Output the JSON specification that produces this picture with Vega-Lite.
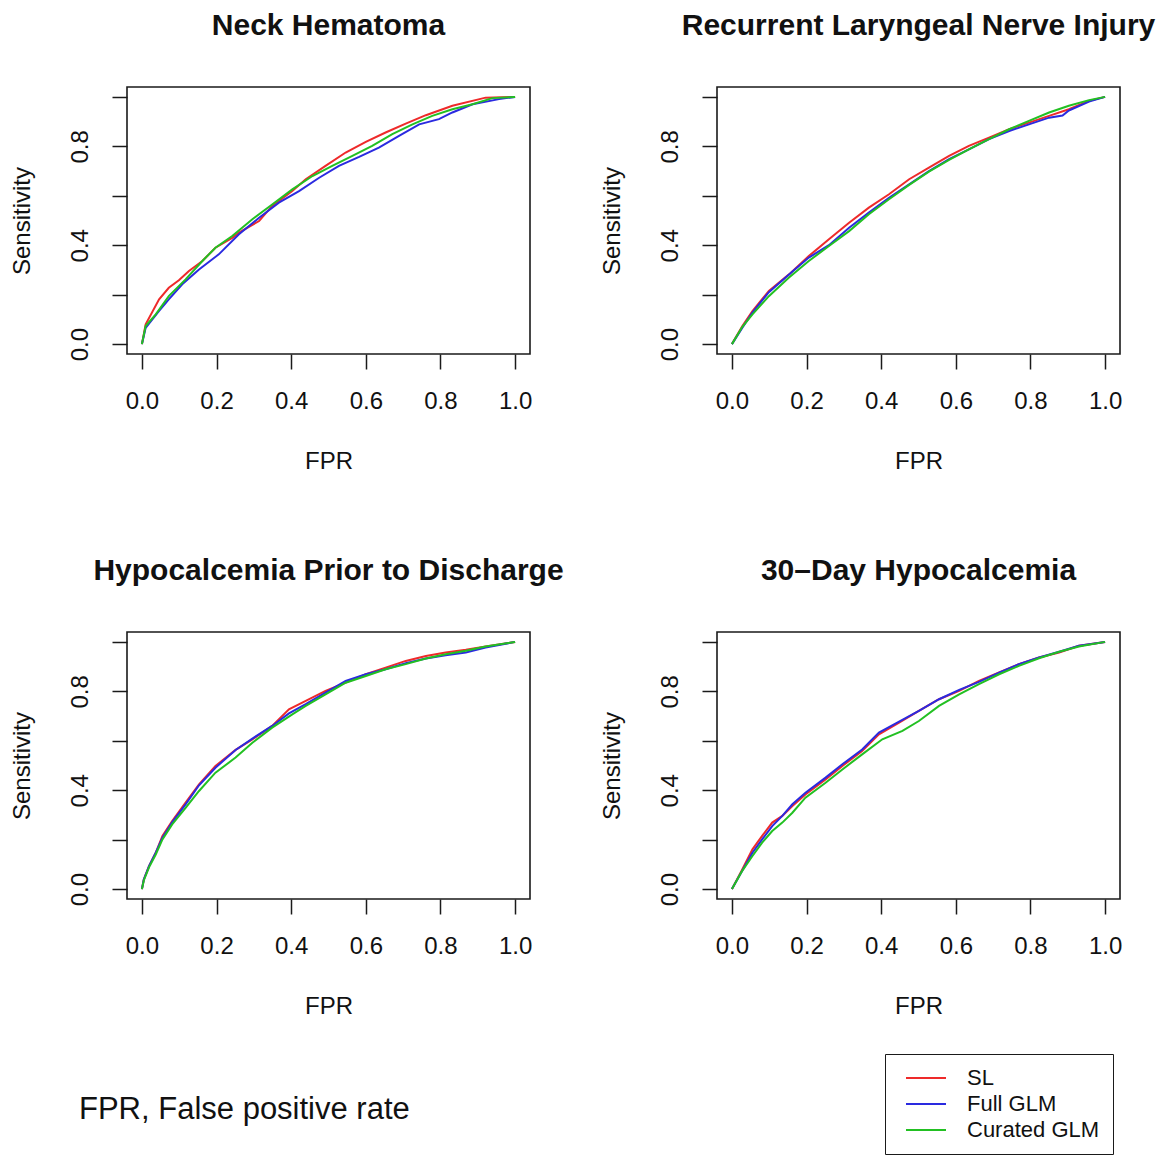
{
  "$schema": "https://vega.github.io/schema/vega-lite/v6.json",
  "background": "white",
  "padding": {"left": 9, "top": 10, "right": 5, "bottom": 5},
  "config": {
    "font": "Liberation Sans",
    "view": {"stroke": "#1a1a1a", "strokeWidth": 1.6},
    "title": {"fontSize": 30, "fontWeight": "bold", "color": "#111", "offset": 46, "anchor": "middle"},
    "axis": {
      "domain": false, "grid": false,
      "tickSize": 15, "tickColor": "#1a1a1a", "tickWidth": 1.5,
      "labelFontSize": 24, "labelColor": "#111", "labelPadding": 20,
      "titleFontSize": 24, "titleFontWeight": "normal", "titleColor": "#111"
    },
    "axisX": {"titlePadding": 36, "labelFlush": false},
    "axisY": {"labelAngle": 270, "labelAlign": "center", "labelBaseline": "bottom",
      "titlePadding": 34, "labelFlush": false},
    "legend": {"orient": "none", "legendX": 758, "legendY": 967, "symbolType": "M-2,0H2", "symbolSize": 400,
      "symbolStrokeWidth": 2, "symbolOffset": 17, "labelFontSize": 22, "labelColor": "#111", "strokeColor": "#1a1a1a",
      "fillColor": "white", "padding": 13, "title": null, "labelOffset": 30, "rowPadding": 4}
  },
  "data": {"values": [
    {"panel":"Neck Hematoma","model":"SL","x":0,"y":0},
    {"panel":"Neck Hematoma","model":"SL","x":0.01,"y":0.08},
    {"panel":"Neck Hematoma","model":"SL","x":0.046,"y":0.181},
    {"panel":"Neck Hematoma","model":"SL","x":0.072,"y":0.228},
    {"panel":"Neck Hematoma","model":"SL","x":0.099,"y":0.258},
    {"panel":"Neck Hematoma","model":"SL","x":0.126,"y":0.296},
    {"panel":"Neck Hematoma","model":"SL","x":0.162,"y":0.336},
    {"panel":"Neck Hematoma","model":"SL","x":0.197,"y":0.39},
    {"panel":"Neck Hematoma","model":"SL","x":0.242,"y":0.43},
    {"panel":"Neck Hematoma","model":"SL","x":0.26,"y":0.451},
    {"panel":"Neck Hematoma","model":"SL","x":0.314,"y":0.498},
    {"panel":"Neck Hematoma","model":"SL","x":0.349,"y":0.559},
    {"panel":"Neck Hematoma","model":"SL","x":0.403,"y":0.619},
    {"panel":"Neck Hematoma","model":"SL","x":0.439,"y":0.667},
    {"panel":"Neck Hematoma","model":"SL","x":0.492,"y":0.721},
    {"panel":"Neck Hematoma","model":"SL","x":0.546,"y":0.775},
    {"panel":"Neck Hematoma","model":"SL","x":0.6,"y":0.818},
    {"panel":"Neck Hematoma","model":"SL","x":0.653,"y":0.856},
    {"panel":"Neck Hematoma","model":"SL","x":0.707,"y":0.892},
    {"panel":"Neck Hematoma","model":"SL","x":0.761,"y":0.926},
    {"panel":"Neck Hematoma","model":"SL","x":0.832,"y":0.964},
    {"panel":"Neck Hematoma","model":"SL","x":0.921,"y":0.997},
    {"panel":"Neck Hematoma","model":"SL","x":1,"y":1},
    {"panel":"Neck Hematoma","model":"Full GLM","x":0,"y":0},
    {"panel":"Neck Hematoma","model":"Full GLM","x":0.01,"y":0.066},
    {"panel":"Neck Hematoma","model":"Full GLM","x":0.046,"y":0.134},
    {"panel":"Neck Hematoma","model":"Full GLM","x":0.072,"y":0.181},
    {"panel":"Neck Hematoma","model":"Full GLM","x":0.108,"y":0.242},
    {"panel":"Neck Hematoma","model":"Full GLM","x":0.153,"y":0.302},
    {"panel":"Neck Hematoma","model":"Full GLM","x":0.206,"y":0.363},
    {"panel":"Neck Hematoma","model":"Full GLM","x":0.26,"y":0.444},
    {"panel":"Neck Hematoma","model":"Full GLM","x":0.314,"y":0.511},
    {"panel":"Neck Hematoma","model":"Full GLM","x":0.367,"y":0.572},
    {"panel":"Neck Hematoma","model":"Full GLM","x":0.421,"y":0.619},
    {"panel":"Neck Hematoma","model":"Full GLM","x":0.475,"y":0.673},
    {"panel":"Neck Hematoma","model":"Full GLM","x":0.528,"y":0.721},
    {"panel":"Neck Hematoma","model":"Full GLM","x":0.582,"y":0.757},
    {"panel":"Neck Hematoma","model":"Full GLM","x":0.635,"y":0.795},
    {"panel":"Neck Hematoma","model":"Full GLM","x":0.689,"y":0.842},
    {"panel":"Neck Hematoma","model":"Full GLM","x":0.743,"y":0.889},
    {"panel":"Neck Hematoma","model":"Full GLM","x":0.796,"y":0.91},
    {"panel":"Neck Hematoma","model":"Full GLM","x":0.832,"y":0.937},
    {"panel":"Neck Hematoma","model":"Full GLM","x":0.886,"y":0.97},
    {"panel":"Neck Hematoma","model":"Full GLM","x":0.957,"y":0.991},
    {"panel":"Neck Hematoma","model":"Full GLM","x":1,"y":1},
    {"panel":"Neck Hematoma","model":"Curated GLM","x":0,"y":0},
    {"panel":"Neck Hematoma","model":"Curated GLM","x":0.01,"y":0.073},
    {"panel":"Neck Hematoma","model":"Curated GLM","x":0.037,"y":0.12},
    {"panel":"Neck Hematoma","model":"Curated GLM","x":0.072,"y":0.194},
    {"panel":"Neck Hematoma","model":"Curated GLM","x":0.117,"y":0.262},
    {"panel":"Neck Hematoma","model":"Curated GLM","x":0.162,"y":0.336},
    {"panel":"Neck Hematoma","model":"Curated GLM","x":0.197,"y":0.39},
    {"panel":"Neck Hematoma","model":"Curated GLM","x":0.242,"y":0.437},
    {"panel":"Neck Hematoma","model":"Curated GLM","x":0.296,"y":0.505},
    {"panel":"Neck Hematoma","model":"Curated GLM","x":0.349,"y":0.565},
    {"panel":"Neck Hematoma","model":"Curated GLM","x":0.403,"y":0.626},
    {"panel":"Neck Hematoma","model":"Curated GLM","x":0.457,"y":0.68},
    {"panel":"Neck Hematoma","model":"Curated GLM","x":0.51,"y":0.721},
    {"panel":"Neck Hematoma","model":"Curated GLM","x":0.564,"y":0.761},
    {"panel":"Neck Hematoma","model":"Curated GLM","x":0.617,"y":0.802},
    {"panel":"Neck Hematoma","model":"Curated GLM","x":0.671,"y":0.849},
    {"panel":"Neck Hematoma","model":"Curated GLM","x":0.725,"y":0.889},
    {"panel":"Neck Hematoma","model":"Curated GLM","x":0.778,"y":0.923},
    {"panel":"Neck Hematoma","model":"Curated GLM","x":0.832,"y":0.95},
    {"panel":"Neck Hematoma","model":"Curated GLM","x":0.886,"y":0.97},
    {"panel":"Neck Hematoma","model":"Curated GLM","x":0.939,"y":0.995},
    {"panel":"Neck Hematoma","model":"Curated GLM","x":1,"y":1},

    {"panel":"RLN","model":"SL","x":0,"y":0},
    {"panel":"RLN","model":"SL","x":0.028,"y":0.073},
    {"panel":"RLN","model":"SL","x":0.055,"y":0.134},
    {"panel":"RLN","model":"SL","x":0.099,"y":0.215},
    {"panel":"RLN","model":"SL","x":0.153,"y":0.282},
    {"panel":"RLN","model":"SL","x":0.206,"y":0.356},
    {"panel":"RLN","model":"SL","x":0.26,"y":0.424},
    {"panel":"RLN","model":"SL","x":0.314,"y":0.491},
    {"panel":"RLN","model":"SL","x":0.367,"y":0.552},
    {"panel":"RLN","model":"SL","x":0.421,"y":0.606},
    {"panel":"RLN","model":"SL","x":0.475,"y":0.667},
    {"panel":"RLN","model":"SL","x":0.528,"y":0.714},
    {"panel":"RLN","model":"SL","x":0.582,"y":0.761},
    {"panel":"RLN","model":"SL","x":0.635,"y":0.802},
    {"panel":"RLN","model":"SL","x":0.689,"y":0.835},
    {"panel":"RLN","model":"SL","x":0.743,"y":0.869},
    {"panel":"RLN","model":"SL","x":0.796,"y":0.896},
    {"panel":"RLN","model":"SL","x":0.85,"y":0.923},
    {"panel":"RLN","model":"SL","x":0.903,"y":0.95},
    {"panel":"RLN","model":"SL","x":0.957,"y":0.984},
    {"panel":"RLN","model":"SL","x":1,"y":1},
    {"panel":"RLN","model":"Full GLM","x":0,"y":0},
    {"panel":"RLN","model":"Full GLM","x":0.028,"y":0.066},
    {"panel":"RLN","model":"Full GLM","x":0.055,"y":0.128},
    {"panel":"RLN","model":"Full GLM","x":0.099,"y":0.21},
    {"panel":"RLN","model":"Full GLM","x":0.153,"y":0.282},
    {"panel":"RLN","model":"Full GLM","x":0.206,"y":0.35},
    {"panel":"RLN","model":"Full GLM","x":0.26,"y":0.4},
    {"panel":"RLN","model":"Full GLM","x":0.314,"y":0.471},
    {"panel":"RLN","model":"Full GLM","x":0.367,"y":0.532},
    {"panel":"RLN","model":"Full GLM","x":0.421,"y":0.592},
    {"panel":"RLN","model":"Full GLM","x":0.475,"y":0.646},
    {"panel":"RLN","model":"Full GLM","x":0.528,"y":0.7},
    {"panel":"RLN","model":"Full GLM","x":0.582,"y":0.748},
    {"panel":"RLN","model":"Full GLM","x":0.635,"y":0.788},
    {"panel":"RLN","model":"Full GLM","x":0.689,"y":0.829},
    {"panel":"RLN","model":"Full GLM","x":0.743,"y":0.862},
    {"panel":"RLN","model":"Full GLM","x":0.796,"y":0.889},
    {"panel":"RLN","model":"Full GLM","x":0.85,"y":0.916},
    {"panel":"RLN","model":"Full GLM","x":0.886,"y":0.925},
    {"panel":"RLN","model":"Full GLM","x":0.903,"y":0.945},
    {"panel":"RLN","model":"Full GLM","x":0.957,"y":0.981},
    {"panel":"RLN","model":"Full GLM","x":1,"y":1},
    {"panel":"RLN","model":"Curated GLM","x":0,"y":0},
    {"panel":"RLN","model":"Curated GLM","x":0.028,"y":0.07},
    {"panel":"RLN","model":"Curated GLM","x":0.055,"y":0.12},
    {"panel":"RLN","model":"Curated GLM","x":0.099,"y":0.194},
    {"panel":"RLN","model":"Curated GLM","x":0.153,"y":0.269},
    {"panel":"RLN","model":"Curated GLM","x":0.206,"y":0.336},
    {"panel":"RLN","model":"Curated GLM","x":0.26,"y":0.397},
    {"panel":"RLN","model":"Curated GLM","x":0.314,"y":0.457},
    {"panel":"RLN","model":"Curated GLM","x":0.367,"y":0.525},
    {"panel":"RLN","model":"Curated GLM","x":0.421,"y":0.586},
    {"panel":"RLN","model":"Curated GLM","x":0.475,"y":0.644},
    {"panel":"RLN","model":"Curated GLM","x":0.528,"y":0.698},
    {"panel":"RLN","model":"Curated GLM","x":0.582,"y":0.745},
    {"panel":"RLN","model":"Curated GLM","x":0.635,"y":0.788},
    {"panel":"RLN","model":"Curated GLM","x":0.689,"y":0.829},
    {"panel":"RLN","model":"Curated GLM","x":0.743,"y":0.869},
    {"panel":"RLN","model":"Curated GLM","x":0.796,"y":0.903},
    {"panel":"RLN","model":"Curated GLM","x":0.85,"y":0.937},
    {"panel":"RLN","model":"Curated GLM","x":0.903,"y":0.964},
    {"panel":"RLN","model":"Curated GLM","x":0.957,"y":0.987},
    {"panel":"RLN","model":"Curated GLM","x":1,"y":1},

    {"panel":"HPD","model":"SL","x":0,"y":0},
    {"panel":"HPD","model":"SL","x":0.005,"y":0.039},
    {"panel":"HPD","model":"SL","x":0.019,"y":0.093},
    {"panel":"HPD","model":"SL","x":0.037,"y":0.147},
    {"panel":"HPD","model":"SL","x":0.055,"y":0.215},
    {"panel":"HPD","model":"SL","x":0.081,"y":0.275},
    {"panel":"HPD","model":"SL","x":0.117,"y":0.35},
    {"panel":"HPD","model":"SL","x":0.153,"y":0.424},
    {"panel":"HPD","model":"SL","x":0.197,"y":0.498},
    {"panel":"HPD","model":"SL","x":0.251,"y":0.563},
    {"panel":"HPD","model":"SL","x":0.296,"y":0.606},
    {"panel":"HPD","model":"SL","x":0.349,"y":0.66},
    {"panel":"HPD","model":"SL","x":0.394,"y":0.727},
    {"panel":"HPD","model":"SL","x":0.439,"y":0.761},
    {"panel":"HPD","model":"SL","x":0.492,"y":0.802},
    {"panel":"HPD","model":"SL","x":0.546,"y":0.835},
    {"panel":"HPD","model":"SL","x":0.6,"y":0.869},
    {"panel":"HPD","model":"SL","x":0.653,"y":0.896},
    {"panel":"HPD","model":"SL","x":0.707,"y":0.923},
    {"panel":"HPD","model":"SL","x":0.761,"y":0.943},
    {"panel":"HPD","model":"SL","x":0.814,"y":0.957},
    {"panel":"HPD","model":"SL","x":0.868,"y":0.968},
    {"panel":"HPD","model":"SL","x":0.921,"y":0.981},
    {"panel":"HPD","model":"SL","x":1,"y":1},
    {"panel":"HPD","model":"Full GLM","x":0,"y":0},
    {"panel":"HPD","model":"Full GLM","x":0.005,"y":0.039},
    {"panel":"HPD","model":"Full GLM","x":0.019,"y":0.093},
    {"panel":"HPD","model":"Full GLM","x":0.037,"y":0.147},
    {"panel":"HPD","model":"Full GLM","x":0.055,"y":0.208},
    {"panel":"HPD","model":"Full GLM","x":0.081,"y":0.27},
    {"panel":"HPD","model":"Full GLM","x":0.117,"y":0.343},
    {"panel":"HPD","model":"Full GLM","x":0.153,"y":0.42},
    {"panel":"HPD","model":"Full GLM","x":0.197,"y":0.491},
    {"panel":"HPD","model":"Full GLM","x":0.251,"y":0.563},
    {"panel":"HPD","model":"Full GLM","x":0.296,"y":0.609},
    {"panel":"HPD","model":"Full GLM","x":0.349,"y":0.66},
    {"panel":"HPD","model":"Full GLM","x":0.394,"y":0.711},
    {"panel":"HPD","model":"Full GLM","x":0.439,"y":0.748},
    {"panel":"HPD","model":"Full GLM","x":0.492,"y":0.795},
    {"panel":"HPD","model":"Full GLM","x":0.546,"y":0.842},
    {"panel":"HPD","model":"Full GLM","x":0.6,"y":0.869},
    {"panel":"HPD","model":"Full GLM","x":0.653,"y":0.889},
    {"panel":"HPD","model":"Full GLM","x":0.707,"y":0.914},
    {"panel":"HPD","model":"Full GLM","x":0.761,"y":0.933},
    {"panel":"HPD","model":"Full GLM","x":0.814,"y":0.946},
    {"panel":"HPD","model":"Full GLM","x":0.868,"y":0.957},
    {"panel":"HPD","model":"Full GLM","x":0.921,"y":0.977},
    {"panel":"HPD","model":"Full GLM","x":1,"y":1},
    {"panel":"HPD","model":"Curated GLM","x":0,"y":0},
    {"panel":"HPD","model":"Curated GLM","x":0.005,"y":0.035},
    {"panel":"HPD","model":"Curated GLM","x":0.019,"y":0.088},
    {"panel":"HPD","model":"Curated GLM","x":0.037,"y":0.14},
    {"panel":"HPD","model":"Curated GLM","x":0.055,"y":0.201},
    {"panel":"HPD","model":"Curated GLM","x":0.081,"y":0.262},
    {"panel":"HPD","model":"Curated GLM","x":0.117,"y":0.329},
    {"panel":"HPD","model":"Curated GLM","x":0.153,"y":0.397},
    {"panel":"HPD","model":"Curated GLM","x":0.197,"y":0.471},
    {"panel":"HPD","model":"Curated GLM","x":0.251,"y":0.532},
    {"panel":"HPD","model":"Curated GLM","x":0.296,"y":0.592},
    {"panel":"HPD","model":"Curated GLM","x":0.349,"y":0.653},
    {"panel":"HPD","model":"Curated GLM","x":0.403,"y":0.707},
    {"panel":"HPD","model":"Curated GLM","x":0.439,"y":0.741},
    {"panel":"HPD","model":"Curated GLM","x":0.492,"y":0.788},
    {"panel":"HPD","model":"Curated GLM","x":0.546,"y":0.835},
    {"panel":"HPD","model":"Curated GLM","x":0.6,"y":0.862},
    {"panel":"HPD","model":"Curated GLM","x":0.653,"y":0.889},
    {"panel":"HPD","model":"Curated GLM","x":0.707,"y":0.91},
    {"panel":"HPD","model":"Curated GLM","x":0.761,"y":0.933},
    {"panel":"HPD","model":"Curated GLM","x":0.814,"y":0.95},
    {"panel":"HPD","model":"Curated GLM","x":0.868,"y":0.964},
    {"panel":"HPD","model":"Curated GLM","x":0.921,"y":0.981},
    {"panel":"HPD","model":"Curated GLM","x":1,"y":1},

    {"panel":"H30","model":"SL","x":0,"y":0},
    {"panel":"H30","model":"SL","x":0.028,"y":0.08},
    {"panel":"H30","model":"SL","x":0.055,"y":0.161},
    {"panel":"H30","model":"SL","x":0.081,"y":0.215},
    {"panel":"H30","model":"SL","x":0.108,"y":0.269},
    {"panel":"H30","model":"SL","x":0.135,"y":0.296},
    {"panel":"H30","model":"SL","x":0.162,"y":0.336},
    {"panel":"H30","model":"SL","x":0.197,"y":0.383},
    {"panel":"H30","model":"SL","x":0.251,"y":0.444},
    {"panel":"H30","model":"SL","x":0.296,"y":0.498},
    {"panel":"H30","model":"SL","x":0.349,"y":0.559},
    {"panel":"H30","model":"SL","x":0.394,"y":0.626},
    {"panel":"H30","model":"SL","x":0.448,"y":0.673},
    {"panel":"H30","model":"SL","x":0.501,"y":0.721},
    {"panel":"H30","model":"SL","x":0.555,"y":0.768},
    {"panel":"H30","model":"SL","x":0.609,"y":0.802},
    {"panel":"H30","model":"SL","x":0.662,"y":0.842},
    {"panel":"H30","model":"SL","x":0.716,"y":0.876},
    {"panel":"H30","model":"SL","x":0.769,"y":0.91},
    {"panel":"H30","model":"SL","x":0.823,"y":0.937},
    {"panel":"H30","model":"SL","x":0.877,"y":0.957},
    {"panel":"H30","model":"SL","x":0.93,"y":0.984},
    {"panel":"H30","model":"SL","x":1,"y":1},
    {"panel":"H30","model":"Full GLM","x":0,"y":0},
    {"panel":"H30","model":"Full GLM","x":0.028,"y":0.075},
    {"panel":"H30","model":"Full GLM","x":0.055,"y":0.147},
    {"panel":"H30","model":"Full GLM","x":0.081,"y":0.201},
    {"panel":"H30","model":"Full GLM","x":0.108,"y":0.255},
    {"panel":"H30","model":"Full GLM","x":0.135,"y":0.296},
    {"panel":"H30","model":"Full GLM","x":0.162,"y":0.343},
    {"panel":"H30","model":"Full GLM","x":0.197,"y":0.39},
    {"panel":"H30","model":"Full GLM","x":0.251,"y":0.451},
    {"panel":"H30","model":"Full GLM","x":0.296,"y":0.505},
    {"panel":"H30","model":"Full GLM","x":0.349,"y":0.565},
    {"panel":"H30","model":"Full GLM","x":0.394,"y":0.633},
    {"panel":"H30","model":"Full GLM","x":0.448,"y":0.677},
    {"panel":"H30","model":"Full GLM","x":0.501,"y":0.721},
    {"panel":"H30","model":"Full GLM","x":0.555,"y":0.768},
    {"panel":"H30","model":"Full GLM","x":0.609,"y":0.806},
    {"panel":"H30","model":"Full GLM","x":0.662,"y":0.838},
    {"panel":"H30","model":"Full GLM","x":0.716,"y":0.876},
    {"panel":"H30","model":"Full GLM","x":0.769,"y":0.91},
    {"panel":"H30","model":"Full GLM","x":0.823,"y":0.937},
    {"panel":"H30","model":"Full GLM","x":0.877,"y":0.96},
    {"panel":"H30","model":"Full GLM","x":0.93,"y":0.984},
    {"panel":"H30","model":"Full GLM","x":1,"y":1},
    {"panel":"H30","model":"Curated GLM","x":0,"y":0},
    {"panel":"H30","model":"Curated GLM","x":0.028,"y":0.075},
    {"panel":"H30","model":"Curated GLM","x":0.055,"y":0.134},
    {"panel":"H30","model":"Curated GLM","x":0.081,"y":0.188},
    {"panel":"H30","model":"Curated GLM","x":0.108,"y":0.235},
    {"panel":"H30","model":"Curated GLM","x":0.135,"y":0.269},
    {"panel":"H30","model":"Curated GLM","x":0.162,"y":0.309},
    {"panel":"H30","model":"Curated GLM","x":0.197,"y":0.37},
    {"panel":"H30","model":"Curated GLM","x":0.251,"y":0.43},
    {"panel":"H30","model":"Curated GLM","x":0.296,"y":0.484},
    {"panel":"H30","model":"Curated GLM","x":0.349,"y":0.545},
    {"panel":"H30","model":"Curated GLM","x":0.403,"y":0.606},
    {"panel":"H30","model":"Curated GLM","x":0.457,"y":0.64},
    {"panel":"H30","model":"Curated GLM","x":0.501,"y":0.68},
    {"panel":"H30","model":"Curated GLM","x":0.555,"y":0.741},
    {"panel":"H30","model":"Curated GLM","x":0.609,"y":0.788},
    {"panel":"H30","model":"Curated GLM","x":0.662,"y":0.829},
    {"panel":"H30","model":"Curated GLM","x":0.716,"y":0.869},
    {"panel":"H30","model":"Curated GLM","x":0.769,"y":0.903},
    {"panel":"H30","model":"Curated GLM","x":0.823,"y":0.934},
    {"panel":"H30","model":"Curated GLM","x":0.877,"y":0.96},
    {"panel":"H30","model":"Curated GLM","x":0.93,"y":0.981},
    {"panel":"H30","model":"Curated GLM","x":1,"y":1}
  ]},
  "vconcat": [
    {"vconcat": [
      {"hconcat": [
        {"title": "Neck Hematoma", "width": 403, "height": 267,
         "transform": [{"filter": "datum.panel === 'Neck Hematoma'"}],
         "mark": {"type": "line", "strokeWidth": 2},
         "encoding": {
           "x": {"field": "x", "type": "quantitative", "scale": {"domain": [-0.04, 1.04], "nice": false, "zero": false}, "axis": {"title": "FPR", "values": [0, 0.2, 0.4, 0.6, 0.8, 1], "format": ".1f"}},
           "y": {"field": "y", "type": "quantitative", "scale": {"domain": [-0.04, 1.04], "nice": false, "zero": false}, "axis": {"title": "Sensitivity", "values": [0, 0.2, 0.4, 0.6, 0.8, 1], "format": ".1f", "labelExpr": "(datum.value < 0.01 || abs(datum.value - 0.4) < 0.01 || abs(datum.value - 0.8) < 0.01) ? datum.label : ''"}},
           "color": {"field": "model", "type": "nominal", "scale": {"domain": ["SL", "Full GLM", "Curated GLM"], "range": ["#ee2a2a", "#2a2ae0", "#22c022"]}}
         }},
        {"title": "Recurrent Laryngeal Nerve Injury", "width": 403, "height": 267,
         "transform": [{"filter": "datum.panel === 'RLN'"}],
         "mark": {"type": "line", "strokeWidth": 2},
         "encoding": {
           "x": {"field": "x", "type": "quantitative", "scale": {"domain": [-0.04, 1.04], "nice": false, "zero": false}, "axis": {"title": "FPR", "values": [0, 0.2, 0.4, 0.6, 0.8, 1], "format": ".1f"}},
           "y": {"field": "y", "type": "quantitative", "scale": {"domain": [-0.04, 1.04], "nice": false, "zero": false}, "axis": {"title": "Sensitivity", "values": [0, 0.2, 0.4, 0.6, 0.8, 1], "format": ".1f", "labelExpr": "(datum.value < 0.01 || abs(datum.value - 0.4) < 0.01 || abs(datum.value - 0.8) < 0.01) ? datum.label : ''"}},
           "color": {"field": "model", "type": "nominal", "scale": {"domain": ["SL", "Full GLM", "Curated GLM"], "range": ["#ee2a2a", "#2a2ae0", "#22c022"]}}
         }}
      ], "spacing": 187, "bounds": "flush"},
      {"hconcat": [
        {"title": "Hypocalcemia Prior to Discharge", "width": 403, "height": 267,
         "transform": [{"filter": "datum.panel === 'HPD'"}],
         "mark": {"type": "line", "strokeWidth": 2},
         "encoding": {
           "x": {"field": "x", "type": "quantitative", "scale": {"domain": [-0.04, 1.04], "nice": false, "zero": false}, "axis": {"title": "FPR", "values": [0, 0.2, 0.4, 0.6, 0.8, 1], "format": ".1f"}},
           "y": {"field": "y", "type": "quantitative", "scale": {"domain": [-0.04, 1.04], "nice": false, "zero": false}, "axis": {"title": "Sensitivity", "values": [0, 0.2, 0.4, 0.6, 0.8, 1], "format": ".1f", "labelExpr": "(datum.value < 0.01 || abs(datum.value - 0.4) < 0.01 || abs(datum.value - 0.8) < 0.01) ? datum.label : ''"}},
           "color": {"field": "model", "type": "nominal", "scale": {"domain": ["SL", "Full GLM", "Curated GLM"], "range": ["#ee2a2a", "#2a2ae0", "#22c022"]}}
         }},
        {"title": "30\u2013Day Hypocalcemia", "width": 403, "height": 267,
         "transform": [{"filter": "datum.panel === 'H30'"}],
         "mark": {"type": "line", "strokeWidth": 2},
         "encoding": {
           "x": {"field": "x", "type": "quantitative", "scale": {"domain": [-0.04, 1.04], "nice": false, "zero": false}, "axis": {"title": "FPR", "values": [0, 0.2, 0.4, 0.6, 0.8, 1], "format": ".1f"}},
           "y": {"field": "y", "type": "quantitative", "scale": {"domain": [-0.04, 1.04], "nice": false, "zero": false}, "axis": {"title": "Sensitivity", "values": [0, 0.2, 0.4, 0.6, 0.8, 1], "format": ".1f", "labelExpr": "(datum.value < 0.01 || abs(datum.value - 0.4) < 0.01 || abs(datum.value - 0.8) < 0.01) ? datum.label : ''"}},
           "color": {"field": "model", "type": "nominal", "scale": {"domain": ["SL", "Full GLM", "Curated GLM"], "range": ["#ee2a2a", "#2a2ae0", "#22c022"]}}
         }}
      ], "spacing": 187, "bounds": "flush"}
    ], "spacing": 545, "bounds": "flush"},
    {"width": 403, "height": 1,
     "view": {"stroke": null},
     "title": {"text": "FPR, False positive rate", "anchor": "start", "orient": "top", "fontSize": 31, "fontWeight": "normal", "offset": 0, "dx": -48, "color": "#111"},
     "transform": [{"filter": "false"}],
     "mark": "point",
     "encoding": {}}
  ],
  "spacing": 1039,
  "bounds": "flush"
}
